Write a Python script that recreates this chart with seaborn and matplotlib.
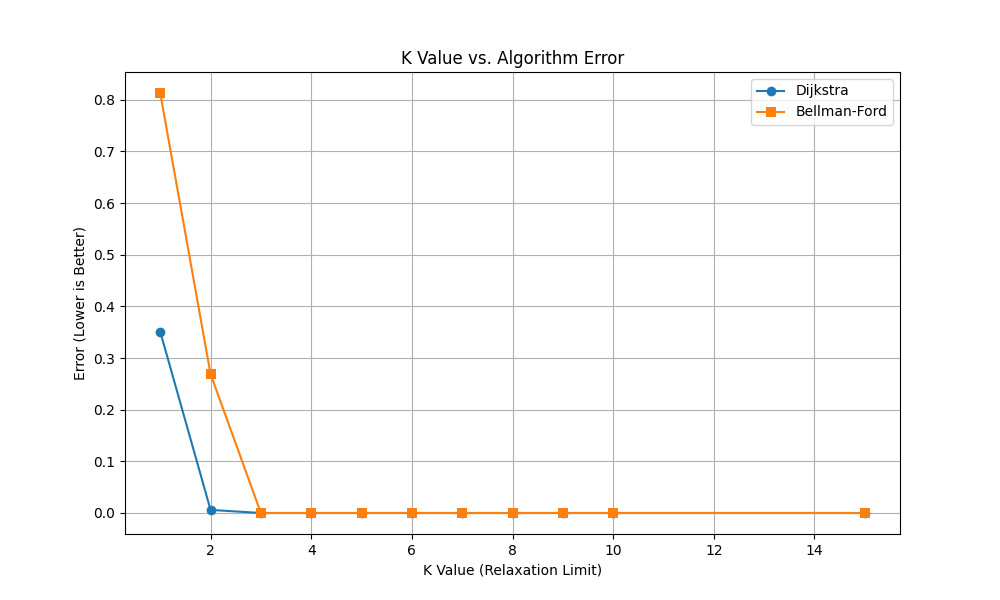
import numpy as np
import pandas as pd
import matplotlib
matplotlib.use("Agg")
import matplotlib.pyplot as plt
import seaborn as sns

k_values = [1, 2, 3, 4, 5, 6, 7, 8, 9, 10, 15]
dijkstra_error = [0.351, 0.006, 0.0, 0.0, 0.0, 0.0, 0.0, 0.0, 0.0, 0.0, 0.0]
bellman_error = [0.813, 0.269, 0.0, 0.0, 0.0, 0.0, 0.0, 0.0, 0.0, 0.0, 0.0]

df = pd.DataFrame({
    "k": k_values * 2,
    "error": dijkstra_error + bellman_error,
    "algo": ["Dijkstra"] * len(k_values) + ["Bellman-Ford"] * len(k_values),
})

fig, ax = plt.subplots(figsize=(10, 6), dpi=100)
sns.lineplot(data=df, x="k", y="error", hue="algo", style="algo",
             markers={"Dijkstra": "o", "Bellman-Ford": "s"}, dashes=False,
             palette=["#1f77b4", "#ff7f0e"], markersize=7, markeredgewidth=0,
             ax=ax)

ax.set_title("K Value vs. Algorithm Error")
ax.set_xlabel("K Value (Relaxation Limit)")
ax.set_ylabel("Error (Lower is Better)")
ax.grid(True)
ax.legend(title=None, loc="upper right")

fig.savefig("out.png", dpi=100)
